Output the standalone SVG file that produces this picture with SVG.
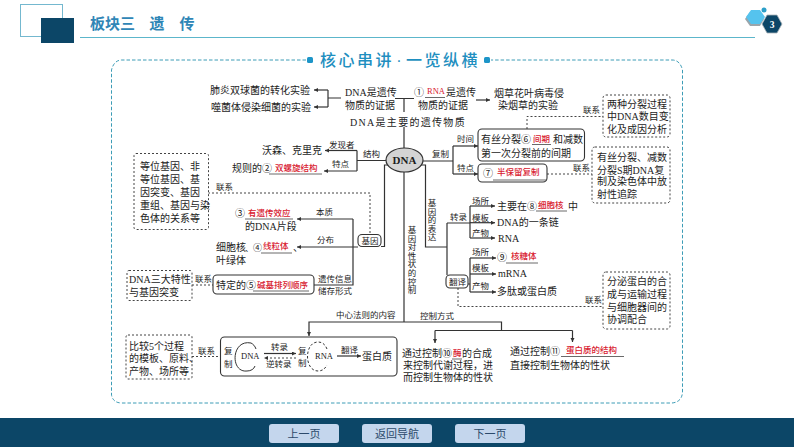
<svg xmlns="http://www.w3.org/2000/svg" width="794" height="447" viewBox="0 0 794 447">
<style>
text{font-family:"Liberation Serif","Noto Sans CJK SC",serif;fill:#1c1c1c}
.t{font-size:10px}
.s{font-size:8.5px}
.r{font-size:8.5px;fill:#d8202f;font-weight:500}
.h{font-family:"Noto Sans CJK SC","Liberation Sans",sans-serif;font-weight:700}
.l{fill:none;stroke:#333;stroke-width:1.2}
.a{fill:none;stroke:#333;stroke-width:1.2;marker-end:url(#ah)}
.d{fill:none;stroke:#444;stroke-width:1;stroke-dasharray:2 2}
.db{fill:#fff;stroke:#444;stroke-width:1;stroke-dasharray:2 2}
.b{fill:#fff;stroke:#333;stroke-width:1.1}
.u{stroke:#444;stroke-width:.8}
.btn{fill:#c4d6ed}
.bt{font-size:11px;fill:#2c4a6b;text-anchor:middle}
</style>
<defs>
<marker id="ah" markerWidth="5" markerHeight="5" refX="4" refY="2" orient="auto" markerUnits="userSpaceOnUse"><path d="M0,0L4,2L0,4Z" fill="#333"/></marker>
</defs>
<rect width="794" height="447" fill="#fff"/>
<g id="header">
<rect x="20.500" y="4.500" width="42" height="32" fill="none" stroke="#74b8cf" stroke-width="1"/>
<rect x="41" y="18" width="33" height="25" fill="#0c4667"/>
<line x1="80" y1="37.500" x2="755" y2="37.500" stroke="#5cb6cb" stroke-width="1"/>
<text class="h" x="90" y="29" font-size="15" style="fill:#2f86b6">板块三</text>
<text class="h" x="149.500" y="29" font-size="15" style="fill:#2f86b6">遗</text>
<text class="h" x="179.500" y="29" font-size="15" style="fill:#2f86b6">传</text>
<path d="M746,17l5,-7h10l4,7l-4,7h-10z" fill="#9aa5ab" transform="translate(-1,2)"/>
<path d="M746,17l5,-7h9l5,7l-5,7h-9z" fill="#55c3ee"/>
<circle cx="764" cy="10" r="2.500" fill="#2b9fc9"/>
<path d="M762,24l5,-9h10l5,9l-5,9h-10z" fill="#0c4667" stroke="#a9b3b8" stroke-width=".8"/>
<text x="772" y="27.500" font-size="9.500" font-weight="700" text-anchor="middle" style="fill:#fff">3</text>
</g>
<g id="frame">
<path d="M306,60H122Q114,60 111.500,70V395Q113,403 122,403H672Q682,402 682.500,392V70Q680,60 672,60H491" fill="none" stroke="#3c9cb6" stroke-width="1" stroke-dasharray="3.500 2"/>
<rect x="307" y="57" width="6" height="6" rx="1.500" fill="#1d95c8"/>
<rect x="484" y="57" width="6" height="6" rx="1.500" fill="#1d95c8"/>
<text class="h" x="320" y="66" font-size="16" style="fill:#1f8fc0;font-weight:500" letter-spacing="2.500">核心串讲</text>
<text x="399" y="66" font-size="16" style="fill:#1f8fc0;font-family:'Liberation Sans',sans-serif" text-anchor="middle">·</text>
<text class="h" x="406" y="66" font-size="16" style="fill:#1f8fc0;font-weight:500" letter-spacing="2.500">一览纵横</text>
</g>
<g id="connectors">
<path class="a" d="M328,90H314"/><path class="a" d="M328,107H314"/><path class="l" d="M328,90V107M328,98H341"/>
<path class="l" d="M395,98.500H414M404,98.500V112M404,127V148"/>
<path class="a" d="M476,100H490"/>
<path class="a" d="M357,150.500H325"/><path class="a" d="M357,171H324"/><path class="l" d="M357,150.500V171M357,160.500H386"/>
<path class="d" d="M208,193H370V234"/>
<path class="l" d="M391,165H384.500V246.500H381"/>
<path class="a" d="M358,247H297"/>
<path class="a" d="M353,219H297"/>
<path class="l" d="M353,219V285H314"/>
<path class="d" d="M192,285H213"/><path class="d" d="M192,356.500H220"/>
<path class="l" d="M404,172V322"/>
<path class="a" d="M404,322H309V336"/>
<path class="l" d="M404,322H501.500V330.500"/>
<path class="a" d="M435,330.500V343"/><path class="a" d="M572.500,330.500V342"/><path class="l" d="M435,330.500H572.500"/>
<path class="l" d="M423,161H453M453,146V174"/>
<path class="a" d="M453,146H478"/><path class="a" d="M453,174H478"/>
<path class="d" d="M527,129V116.500H603"/>
<path class="d" d="M547,174H592"/>
<path class="l" d="M418,165H425.500V247H447M447,223V275M447,223H470M470,206V238"/>
<path class="a" d="M470,206H495"/><path class="a" d="M470,222.700H495"/><path class="a" d="M470,238H495"/>
<path class="l" d="M468,284H470M470,258V292"/>
<path class="a" d="M470,258H496"/><path class="a" d="M470,274H496"/><path class="a" d="M470,292H496"/>
<path class="d" d="M458,288V306.500H603"/>
</g>
<g id="top-left-experiments" class="t">
<text x="210" y="94">肺炎双球菌的转化实验</text>
<text x="211" y="111">噬菌体侵染细菌的实验</text>
</g>
<g id="dna-evidence" class="t">
<text x="345" y="96">DNA是遗传</text><text x="345" y="109">物质的证据</text>
</g>
<g id="rna-evidence" class="t">
<text x="414" y="96">①</text><text class="r" x="427" y="94">RNA</text><text x="446" y="96">是遗传</text><text x="418" y="109">物质的证据</text>
<line class="u" x1="425" y1="97.500" x2="445" y2="97.500"/>
</g>
<g id="tmv" class="t"><text x="494" y="97">烟草花叶病毒侵</text><text x="498" y="109">染烟草的实验</text></g>
<g id="main-material"><text class="t" x="350" y="126" letter-spacing="1.300">DNA是主要的遗传物质</text></g>
<g id="dna"><ellipse cx="404.500" cy="160" rx="18.500" ry="12" fill="#d4d4d4" stroke="#333" stroke-width="1.200"/><text x="404.500" y="164" font-size="11" font-weight="700" text-anchor="middle">DNA</text></g>
<g id="structure" class="s">
<text x="363" y="157">结构</text><text x="329" y="148">发现者</text><text x="332" y="167">特点</text>
<text class="t" x="262" y="154">沃森、克里克</text>
<text class="t" x="232" y="172">规则的②</text><text class="r" x="275" y="171">双螺旋结构</text>
<line class="u" x1="269" y1="174" x2="322" y2="174"/>
</g>
<g id="box-alleles"><rect class="db" x="134" y="153.500" width="74.500" height="76" rx="2"/>
<text class="t" x="140" y="170">等位基因、非</text><text class="t" x="140" y="183">等位基因、基</text><text class="t" x="140" y="196">因突变、基因</text><text class="t" x="140" y="209">重组、基因与染</text><text class="t" x="140" y="222">色体的关系等</text></g>
<g id="links-labels" class="s">
<text x="216" y="190">联系</text><text x="195" y="282">联系</text><text x="198" y="354">联系</text>
<text x="583" y="113">联系</text><text x="573" y="171">联系</text><text x="585" y="303">联系</text>
<text x="316" y="215">本质</text><text x="317" y="243">分布</text>
<text x="336" y="318">中心法则的内容</text><text x="420" y="319">控制方式</text>
</g>
<g id="gene"><rect class="b" x="358" y="234.500" width="23" height="12" rx="4"/><text class="s" x="361.500" y="243.500">基因</text></g>
<g id="gene-essence" class="t">
<text x="235" y="217">③</text><text class="r" x="248" y="216">有遗传效应</text><line class="u" x1="245" y1="219" x2="293" y2="219"/>
<text x="245" y="230">的DNA片段</text>
</g>
<g id="gene-location" class="t">
<text x="216" y="251">细胞核</text><text x="245" y="251" font-size="8">、</text><text x="253" y="251" font-size="9">④</text><text class="r" x="263" y="249">线粒体</text><line class="u" x1="261" y1="253" x2="292" y2="253"/><text x="293" y="251">、</text>
<text x="216" y="264">叶绿体</text>
</g>
<g id="box-traits"><rect class="db" x="127" y="270.500" width="65" height="30" rx="2"/>
<text class="t" x="129" y="283">DNA三大特性</text><text class="t" x="129" y="296">与基因突变</text></g>
<g id="specific-order"><rect class="b" x="213" y="275" width="101" height="19" rx="4"/>
<text class="t" x="216" y="288.500">特定的⑤</text><text class="r" x="257" y="287.500">碱基排列顺序</text><line class="u" x1="253" y1="291" x2="309" y2="291"/></g>
<g id="storage" class="s"><text x="318" y="282">遗传信息</text><text x="318" y="294">储存形式</text></g>
<g id="box-compare"><rect class="db" x="126" y="335" width="66" height="44" rx="2"/>
<text class="t" x="129" y="350">比较5个过程</text><text class="t" x="129" y="362">的模板、原料、</text><text class="t" x="129" y="375">产物、场所等</text></g>
<g id="central-dogma"><rect class="b" x="220.500" y="337" width="176.500" height="39" rx="4"/>
<text class="s" x="224" y="354">复</text><text class="s" x="224" y="367">制</text>
<path class="l" style="stroke-width:1" d="M251,343C231,339 230,373 247,371C251,371 254,369 255,366M251,343C253,344 255,346 256,349"/>
<text class="s" x="241" y="358.500">DNA</text>
<text class="s" x="271" y="350">转录</text><text class="s" x="266" y="367">逆转录</text>
<path class="a" d="M264,353.500H296"/><path class="d" style="marker-end:url(#ah)" d="M296,358H264"/>
<text class="s" x="298" y="354">复</text><text class="s" x="298" y="366">制</text>
<path fill="none" stroke="#333" stroke-width="1" stroke-dasharray="2.500 2" d="M327,349C325,344 322,342 318,342C304,342 304,371 318,371C322,371 325,369 327,365"/>
<text class="s" x="315" y="359">RNA</text>
<text class="s" x="341" y="353">翻译</text><path class="a" d="M337,356H361"/>
<text class="t" x="362" y="360">蛋白质</text></g>
<g id="replication" class="s"><text x="432" y="157">复制</text><text x="457" y="142">时间</text><text x="457" y="171">特点</text></g>
<g id="box-interphase"><rect class="b" x="478" y="129" width="106.500" height="32" rx="4"/>
<text class="t" x="481" y="143">有丝分裂⑥</text><text class="r" x="533" y="142">间期</text><line class="u" x1="532" y1="144.500" x2="551" y2="144.500"/><text class="t" x="553" y="143">和减数</text>
<text class="t" x="481" y="157">第一次分裂前的间期</text></g>
<g id="box-semi"><rect class="b" x="478" y="164" width="69" height="18" rx="4"/>
<text class="t" x="483" y="177">⑦</text><text class="r" x="497" y="175">半保留复制</text><line class="u" x1="493" y1="180" x2="547" y2="180"/></g>
<g id="box-division"><rect class="db" x="603" y="95" width="67" height="42" rx="3"/>
<text class="t" x="607" y="108">两种分裂过程</text><text class="t" x="607" y="120">中DNA数目变</text><text class="t" x="607" y="133">化及成因分析</text></g>
<g id="box-sphase"><rect class="db" x="592" y="147" width="78" height="56" rx="3"/>
<text class="t" x="597" y="161">有丝分裂、减数</text><text class="t" x="597" y="174">分裂S期DNA复</text><text class="t" x="597" y="185">制及染色体中放</text><text class="t" x="597" y="198">射性追踪</text></g>
<g id="vertical-labels" class="s" text-anchor="middle">
<text x="432" y="206">基</text><text x="432" y="214.500">因</text><text x="432" y="223">的</text><text x="432" y="231.500">表</text><text x="432" y="240">达</text>
<text x="412" y="233">基</text><text x="412" y="241.600">因</text><text x="412" y="250.200">对</text><text x="412" y="258.800">性</text><text x="412" y="267.400">状</text><text x="412" y="276">的</text><text x="412" y="284.600">控</text><text x="412" y="293.200">制</text>
</g>
<g id="transcription">
<text class="s" x="450" y="220">转录</text><text class="s" x="472" y="204">场所</text><text class="s" x="472" y="221">模板</text><text class="s" x="472" y="236">产物</text>
<text class="t" x="497" y="210">主要在⑧</text><text class="r" x="538" y="208">细胞核</text><line class="u" x1="536" y1="211" x2="567" y2="211"/><text class="t" x="568" y="210">中</text>
<text class="t" x="497" y="226">DNA的一条链</text><text class="t" x="498" y="242">RNA</text>
</g>
<g id="translation">
<rect class="b" x="446" y="275" width="22" height="13" rx="4"/><text class="s" x="449" y="284.500">翻译</text>
<text class="s" x="472" y="255">场所</text><text class="s" x="472" y="271">模板</text><text class="s" x="472" y="289">产物</text>
<text class="t" x="497" y="261">⑨</text><text class="r" x="511" y="259">核糖体</text><line class="u" x1="506" y1="263" x2="538" y2="263"/>
<text class="t" x="498" y="277">mRNA</text><text class="t" x="497" y="295">多肽或蛋白质</text>
</g>
<g id="box-secretion"><rect class="db" x="603" y="272" width="67" height="57" rx="3"/>
<text class="t" x="607" y="285">分泌蛋白的合</text><text class="t" x="607" y="298">成与运输过程</text><text class="t" x="607" y="311">与细胞器间的</text><text class="t" x="607" y="323">协调配合</text></g>
<g id="enzyme" class="t">
<text x="402" y="357">通过控制⑩</text><text class="r" x="453" y="356">酶</text><line class="u" x1="452" y1="359" x2="462" y2="359"/><text x="462" y="357">的合成</text>
<text x="403" y="369">来控制代谢过程，进</text><text x="403" y="381">而控制生物体的性状</text>
</g>
<g id="protein" class="t">
<text x="510" y="355">通过控制⑪</text><text class="r" x="566" y="353">蛋白质的结构</text><line class="u" x1="561" y1="356.500" x2="624" y2="356.500"/>
<text x="510" y="369">直接控制生物体的性状</text>
</g>
<g id="footer">
<rect x="0" y="418" width="794" height="29" fill="#0c4667"/>
<rect class="btn" x="269" y="424" width="70" height="19" rx="3"/><text class="bt" x="304" y="438">上一页</text>
<rect class="btn" x="362" y="424" width="70" height="19" rx="3"/><text class="bt" x="397" y="438">返回导航</text>
<rect class="btn" x="455" y="424" width="70" height="19" rx="3"/><text class="bt" x="490" y="438">下一页</text>
</g>
</svg>
